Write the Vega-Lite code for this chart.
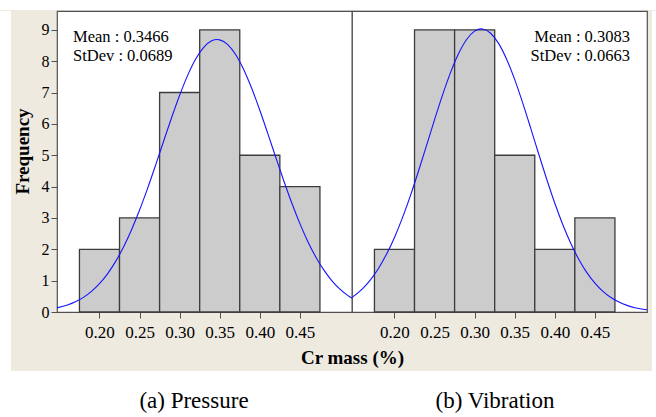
{
  "$schema": "https://vega.github.io/schema/vega-lite/v6.json",
  "background": "#eeeae0",
  "padding": 0,
  "spacing": 0,
  "config": {"view": {"stroke": null}, "font": "Liberation Serif", "text": {"font": "Liberation Serif"}},
  "datasets": {
    "barsA": [
      {"lo": 0.175, "hi": 0.225, "count": 2},
      {"lo": 0.225, "hi": 0.275, "count": 3},
      {"lo": 0.275, "hi": 0.325, "count": 7},
      {"lo": 0.325, "hi": 0.375, "count": 9},
      {"lo": 0.375, "hi": 0.425, "count": 5},
      {"lo": 0.425, "hi": 0.475, "count": 4}
    ],
    "barsB": [
      {"lo": 0.175, "hi": 0.225, "count": 2},
      {"lo": 0.225, "hi": 0.275, "count": 9},
      {"lo": 0.275, "hi": 0.325, "count": 9},
      {"lo": 0.325, "hi": 0.375, "count": 5},
      {"lo": 0.375, "hi": 0.425, "count": 2},
      {"lo": 0.425, "hi": 0.475, "count": 3}
    ],
    "curveA": [
      {"x": 0.147, "f": 0.131}, {"x": 0.16, "f": 0.222}, {"x": 0.17, "f": 0.325}, {"x": 0.18, "f": 0.467},
      {"x": 0.19, "f": 0.657}, {"x": 0.2, "f": 0.904}, {"x": 0.21, "f": 1.218}, {"x": 0.22, "f": 1.606},
      {"x": 0.23, "f": 2.075}, {"x": 0.24, "f": 2.625}, {"x": 0.25, "f": 3.252}, {"x": 0.26, "f": 3.944},
      {"x": 0.27, "f": 4.684}, {"x": 0.28, "f": 5.447}, {"x": 0.29, "f": 6.202}, {"x": 0.3, "f": 6.913},
      {"x": 0.31, "f": 7.546}, {"x": 0.32, "f": 8.066}, {"x": 0.33, "f": 8.441}, {"x": 0.34, "f": 8.65},
      {"x": 0.3466, "f": 8.69}, {"x": 0.35, "f": 8.679}, {"x": 0.36, "f": 8.527}, {"x": 0.37, "f": 8.203},
      {"x": 0.38, "f": 7.727}, {"x": 0.39, "f": 7.126}, {"x": 0.4, "f": 6.435}, {"x": 0.41, "f": 5.691},
      {"x": 0.42, "f": 4.927}, {"x": 0.43, "f": 4.177}, {"x": 0.44, "f": 3.467}, {"x": 0.45, "f": 2.818},
      {"x": 0.46, "f": 2.243}, {"x": 0.47, "f": 1.748}, {"x": 0.48, "f": 1.334}, {"x": 0.49, "f": 0.996},
      {"x": 0.5, "f": 0.729}, {"x": 0.51, "f": 0.522}, {"x": 0.515, "f": 0.438}
    ],
    "curveB": [
      {"x": 0.147, "f": 0.468}, {"x": 0.16, "f": 0.74}, {"x": 0.17, "f": 1.025}, {"x": 0.18, "f": 1.389},
      {"x": 0.19, "f": 1.838}, {"x": 0.2, "f": 2.378}, {"x": 0.21, "f": 3.009}, {"x": 0.22, "f": 3.72},
      {"x": 0.23, "f": 4.496}, {"x": 0.24, "f": 5.312}, {"x": 0.25, "f": 6.135}, {"x": 0.26, "f": 6.925},
      {"x": 0.27, "f": 7.642}, {"x": 0.28, "f": 8.244}, {"x": 0.29, "f": 8.692}, {"x": 0.3, "f": 8.959},
      {"x": 0.3083, "f": 9.03}, {"x": 0.31, "f": 9.027}, {"x": 0.32, "f": 8.89}, {"x": 0.33, "f": 8.559},
      {"x": 0.34, "f": 8.055}, {"x": 0.35, "f": 7.41}, {"x": 0.36, "f": 6.663}, {"x": 0.37, "f": 5.857},
      {"x": 0.38, "f": 5.032}, {"x": 0.39, "f": 4.226}, {"x": 0.4, "f": 3.47}, {"x": 0.41, "f": 2.785},
      {"x": 0.42, "f": 2.184}, {"x": 0.43, "f": 1.675}, {"x": 0.44, "f": 1.256}, {"x": 0.45, "f": 0.92},
      {"x": 0.46, "f": 0.659}, {"x": 0.47, "f": 0.461}, {"x": 0.48, "f": 0.316}, {"x": 0.49, "f": 0.211},
      {"x": 0.5, "f": 0.138}, {"x": 0.51, "f": 0.088}, {"x": 0.515, "f": 0.07}
    ]
  },
  "vconcat": [
    {
      "width": 656, "height": 10,
      "view": {"fill": "white", "stroke": null},
      "data": {"values": []},
      "mark": "rect",
      "encoding": {}
    },
    {
      "spacing": 0,
      "bounds": "flush",
      "hconcat": [
        {
          "width": 11, "height": 360,
          "view": {"fill": "white", "stroke": null},
          "data": {"values": []},
          "mark": "rect",
          "encoding": {}
        },
        {
          "width": 46, "height": 360,
          "view": {"stroke": null},
          "data": {"values": []},
          "mark": "rect",
          "encoding": {}
        },
        {
          "width": 295, "height": 301,
          "view": {"stroke": "#505050", "strokeWidth": 1.2, "fill": "white"},
          "title": {
            "text": ["Mean : 0.3466", "StDev : 0.0689"],
            "orient": "top", "frame": "group", "anchor": "start",
            "offset": 0, "dx": 16, "dy": 53,
            "font": "Liberation Serif", "fontSize": 16.5, "fontWeight": "normal",
            "lineHeight": 19, "color": "black"
          },
          "layer": [
            {
              "data": {"name": "barsA"},
              "mark": {"type": "rect", "fill": "#cccccc", "stroke": "#3c3c3c", "strokeWidth": 1.3},
              "encoding": {
                "x": {
                  "field": "lo", "type": "quantitative",
                  "scale": {"domain": [0.147, 0.515], "nice": false, "zero": false},
                  "axis": {
                    "values": [0.2, 0.25, 0.3, 0.35, 0.4, 0.45], "format": ".2f",
                    "title": "Cr mass (%)", "titleFont": "Liberation Serif", "titleFontSize": 19,
                    "titleFontWeight": "bold", "titleColor": "black", "titleX": 295, "titlePadding": 8,
                    "labelFont": "Liberation Serif", "labelFontSize": 17, "labelColor": "black",
                    "labelPadding": 6, "tickSize": 6, "tickColor": "#505050",
                    "domain": false, "grid": false, "labelFlush": false, "labelOverlap": false
                  }
                },
                "x2": {"field": "hi"},
                "y": {
                  "field": "count", "type": "quantitative",
                  "scale": {"domain": [0, 9.6], "nice": false, "zero": true},
                  "axis": {
                    "values": [0, 1, 2, 3, 4, 5, 6, 7, 8, 9], "tickCount": 10, "format": "d",
                    "title": "Frequency", "titleFont": "Liberation Serif", "titleFontSize": 19,
                    "titleFontWeight": "bold", "titleColor": "black", "titlePadding": 9, "titleY": 140,
                    "labelFont": "Liberation Serif", "labelFontSize": 16, "labelColor": "black",
                    "labelPadding": 2, "tickSize": 6, "tickColor": "#505050",
                    "domain": false, "grid": false, "labelOverlap": false, "labelFlush": false
                  }
                },
                "y2": {"datum": 0}
              }
            },
            {
              "data": {"name": "curveA"},
              "mark": {"type": "line", "color": "#1414ff", "strokeWidth": 1.1, "interpolate": "monotone"},
              "encoding": {
                "x": {"field": "x", "type": "quantitative"},
                "y": {
                  "field": "f", "type": "quantitative",
                  "axis": {
                    "values": [0, 1, 2, 3, 4, 5, 6, 7, 8, 9], "tickCount": 10, "format": "d",
                    "title": "Frequency", "titleFont": "Liberation Serif", "titleFontSize": 19,
                    "titleFontWeight": "bold", "titleColor": "black", "titlePadding": 9, "titleY": 140,
                    "labelFont": "Liberation Serif", "labelFontSize": 16, "labelColor": "black",
                    "labelPadding": 2, "tickSize": 6, "tickColor": "#505050",
                    "domain": false, "grid": false, "labelOverlap": false, "labelFlush": false
                  }
                }
              }
            }
          ]
        },
        {
          "width": 295, "height": 301,
          "view": {"stroke": "#505050", "strokeWidth": 1.2, "fill": "white"},
          "title": {
            "text": ["Mean : 0.3083", "StDev : 0.0663"],
            "orient": "top", "frame": "group", "anchor": "end",
            "offset": 0, "dx": -17, "dy": 53,
            "font": "Liberation Serif", "fontSize": 16.5, "fontWeight": "normal",
            "lineHeight": 19, "color": "black"
          },
          "layer": [
            {
              "data": {"name": "barsB"},
              "mark": {"type": "rect", "fill": "#cccccc", "stroke": "#3c3c3c", "strokeWidth": 1.3},
              "encoding": {
                "x": {
                  "field": "lo", "type": "quantitative",
                  "scale": {"domain": [0.147, 0.515], "nice": false, "zero": false},
                  "axis": {
                    "values": [0.2, 0.25, 0.3, 0.35, 0.4, 0.45], "format": ".2f",
                    "title": null,
                    "labelFont": "Liberation Serif", "labelFontSize": 17, "labelColor": "black",
                    "labelPadding": 6, "tickSize": 6, "tickColor": "#505050",
                    "domain": false, "grid": false, "labelFlush": false, "labelOverlap": false
                  }
                },
                "x2": {"field": "hi"},
                "y": {
                  "field": "count", "type": "quantitative",
                  "scale": {"domain": [0, 9.6], "nice": false, "zero": true},
                  "axis": null
                },
                "y2": {"datum": 0}
              }
            },
            {
              "data": {"name": "curveB"},
              "mark": {"type": "line", "color": "#1414ff", "strokeWidth": 1.1, "interpolate": "monotone"},
              "encoding": {
                "x": {"field": "x", "type": "quantitative"},
                "y": {"field": "f", "type": "quantitative", "axis": null}
              }
            }
          ]
        },
        {
          "width": 5, "height": 360,
          "view": {"stroke": null},
          "data": {"values": []},
          "mark": "rect",
          "encoding": {}
        },
        {
          "width": 4, "height": 360,
          "view": {"fill": "white", "stroke": null},
          "data": {"values": []},
          "mark": "rect",
          "encoding": {}
        }
      ]
    },
    {
      "width": 656, "height": 47,
      "view": {"fill": "white", "stroke": null},
      "data": {"values": [{"label": "(a) Pressure"}, {"label": "(b) Vibration"}]},
      "mark": {"type": "text", "font": "Liberation Serif", "fontSize": 23, "baseline": "middle", "dy": 6, "color": "black"},
      "encoding": {
        "x": {
          "field": "label", "type": "nominal",
          "scale": {"type": "point", "domain": ["(a) Pressure", "(b) Vibration"], "range": [194, 495], "padding": 0},
          "axis": null
        },
        "text": {"field": "label"}
      }
    }
  ]
}
